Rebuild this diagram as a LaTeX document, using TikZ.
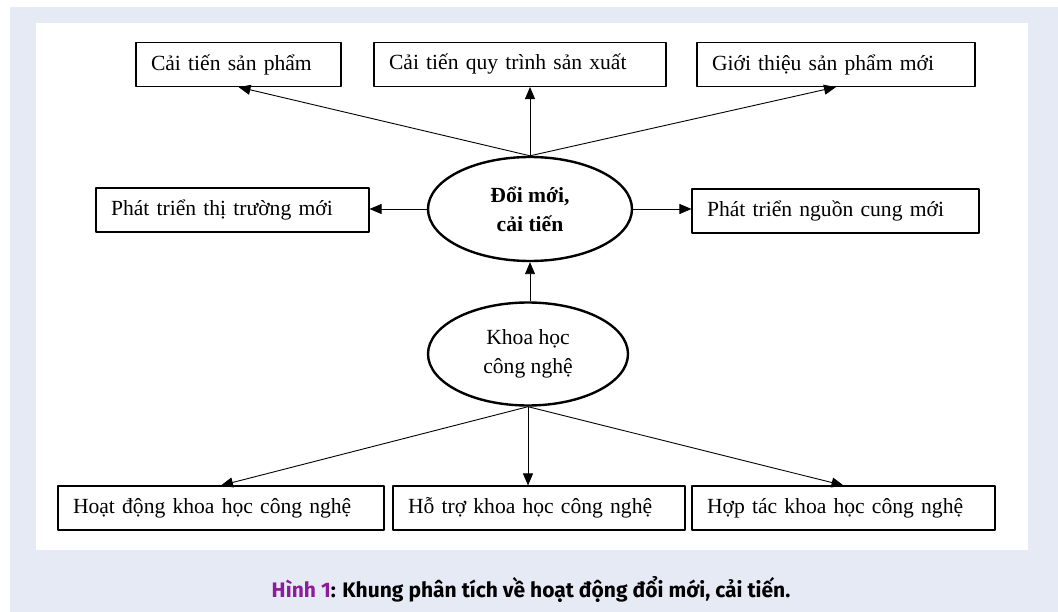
\documentclass[tikz,border=0pt]{standalone}
\usepackage{fontspec}
\setmainfont{Liberation Serif}
\newfontfamily\capfont{Fira Sans}
\usetikzlibrary{arrows.meta,shapes.geometric}
\definecolor{panel}{HTML}{E6EAF5}
\definecolor{plum}{HTML}{8E1B9B}

\begin{document}
\begin{tikzpicture}[x=1pt,y=-1pt,>={Triangle[length=12pt,width=10pt]},
  font=\fontsize{21.6}{29}\selectfont,line join=round,
  box/.style={draw,line width=1.1pt,minimum height=44pt,inner xsep=15pt,inner ysep=0pt,align=left},
  oval/.style={ellipse,draw,line width=2.4pt,inner sep=0pt,align=center},
  link/.style={->,line width=0.9pt}]
  % Frame.
  \useasboundingbox (0,0) rectangle (1058,612);
  \fill[panel] (10,7) rectangle (1058,612);
  \fill[white] (36,23) rectangle (1028,550);

  % Centre ovals.
  \node[oval,minimum width=204pt,minimum height=104pt] (doimoi) at (530,209)
    {\bfseries Đổi mới,\\\bfseries cải tiến};
  \node[oval,minimum width=200pt,minimum height=103pt] (khcn) at (528,354)
    {Khoa học\\công nghệ};

  % Outcomes.
  \node[box,text width=175pt] (sanpham) at (238.5,64.5) {Cải tiến sản phẩm};
  \node[box,text width=262pt] (quytrinh) at (520,64.5) {Cải tiến quy trình sản xuất};
  \node[box,text width=248pt] (spmoi) at (836,64.5) {Giới thiệu sản phẩm mới};
  \node[box,text width=243pt] (thitruong) at (232.5,210) {Phát triển thị trường mới};
  \node[box,text width=257pt] (nguoncung) at (835.5,211) {Phát triển nguồn cung mới};

  % Science and technology inputs.
  \node[box,text width=296pt] (hoatdong) at (221,508) {Hoạt động khoa học công nghệ};
  \node[box,text width=262pt] (hotro) at (539,508) {Hỗ trợ khoa học công nghệ};
  \node[box,text width=273pt] (hoptac) at (843.5,508) {Hợp tác khoa học công nghệ};

  % Links.
  \draw[link] (doimoi.north) -- (sanpham.south);
  \draw[link] (doimoi.north) -- (quytrinh.south -| doimoi.north);
  \draw[link] (doimoi.north) -- (spmoi.south);
  \draw[link] (doimoi.west) -- (thitruong.east |- doimoi.west);
  \draw[link] (doimoi.east) -- (nguoncung.west |- doimoi.east);
  \draw[link] (khcn.north -| doimoi.south) -- (doimoi.south);
  \draw[link] (khcn.south) -- (hoatdong.north);
  \draw[link] (khcn.south) -- (hotro.north -| khcn.south);
  \draw[link] (khcn.south) -- (hoptac.north);

  % Caption.
  \node[font=\capfont\fontsize{21}{24}\selectfont\bfseries] (caption) at (531,590)
    {\textcolor{plum}{Hình 1}: Khung phân tích về hoạt động đổi mới, cải tiến.};
\end{tikzpicture}
\end{document}
